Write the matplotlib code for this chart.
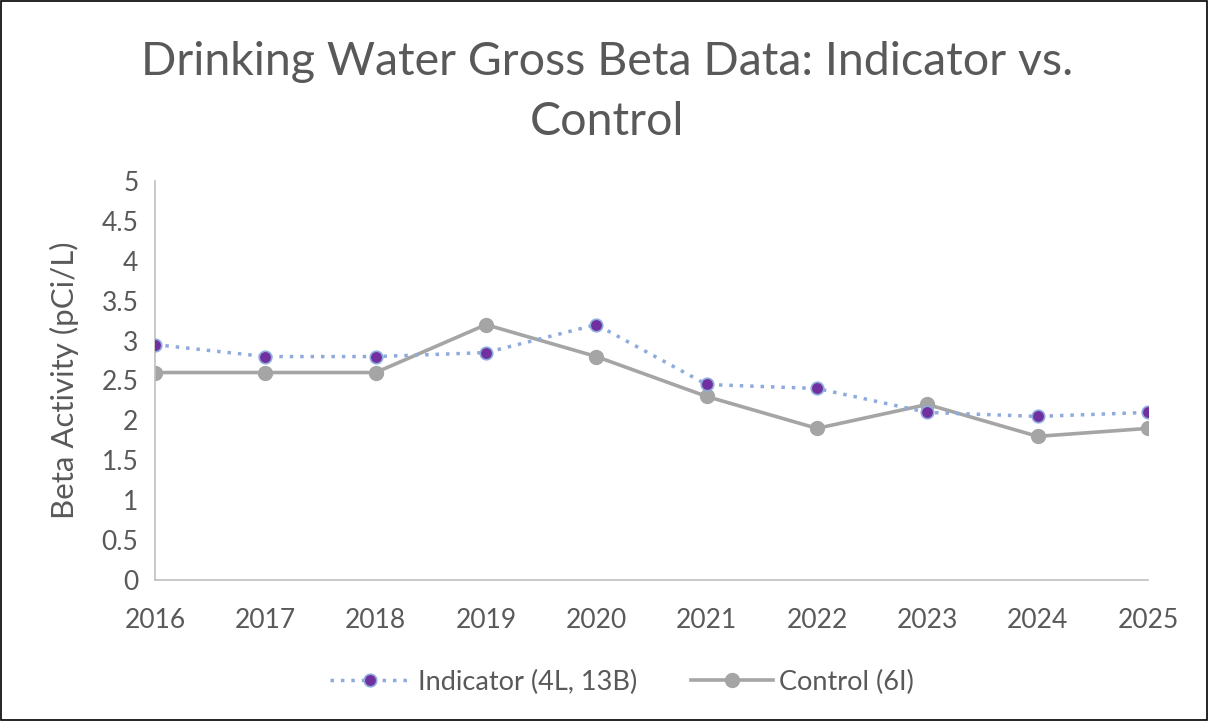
import matplotlib
matplotlib.use("Agg")
import matplotlib.pyplot as plt
from matplotlib.patches import Rectangle

years = [2016, 2017, 2018, 2019, 2020, 2021, 2022, 2023, 2024, 2025]
indicator = [2.95, 2.8, 2.8, 2.85, 3.2, 2.45, 2.4, 2.1, 2.05, 2.1]
control = [2.6, 2.6, 2.6, 3.2, 2.8, 2.3, 1.9, 2.2, 1.8, 1.9]
yticks = [0, 0.5, 1, 1.5, 2, 2.5, 3, 3.5, 4, 4.5, 5]
ytick_labels = ["0", "0.5", "1", "1.5", "2", "2.5", "3", "3.5", "4", "4.5", "5"]

plt.rcParams['font.family'] = ['Lato', 'DejaVu Sans']
txt = '#595959'

fig = plt.figure(figsize=(12.09, 7.21), dpi=100)
ax = fig.add_axes([155/1209, 1-580/721, 993/1209, 399/721])

ax.plot(years, indicator, linestyle=(0, (1, 2)), color='#8FAADC', linewidth=2.5,
        marker='o', markersize=9, markerfacecolor='#7030A0', markeredgecolor='#8FAADC',
        markeredgewidth=1.2, label='Indicator (4L, 13B)', zorder=3)
ax.plot(years, control, linestyle='-', color='#A5A5A5', linewidth=2.6,
        marker='o', markersize=10, markerfacecolor='#A5A5A5', markeredgecolor='#A5A5A5',
        label='Control (6I)', zorder=2)

ax.set_xlim(2016, 2025)
ax.set_ylim(0, 5)
ax.set_yticks(yticks)
ax.set_yticklabels(ytick_labels)
ax.set_xticks(years)
ax.set_xticklabels([str(y) for y in years])
for s in ['top', 'right']:
    ax.spines[s].set_visible(False)
for s in ['left', 'bottom']:
    ax.spines[s].set_color('#BFBFBF')
    ax.spines[s].set_linewidth(1.2)
ax.tick_params(axis='both', length=0, labelsize=19, colors=txt)
ax.tick_params(axis='x', pad=20)
ax.tick_params(axis='y', pad=12)
ax.set_ylabel('Beta Activity (pCi/L)', fontsize=22.5, color=txt, labelpad=16)

fig.text(607/1209, 1-92/721, 'Drinking Water Gross Beta Data: Indicator vs.\nControl',
         ha='center', va='center', fontsize=33.5, color=txt, linespacing=1.55)

leg = ax.legend(loc='center', bbox_to_anchor=(622/1209, 1-682/721), bbox_transform=fig.transFigure,
                ncol=2, frameon=False, fontsize=19.5, handlelength=3.0, columnspacing=2.0,
                handletextpad=0.25)
for t in leg.get_texts():
    t.set_color(txt)

fig.patches.append(Rectangle((0.001, 0.001), 0.997, 0.997, transform=fig.transFigure,
                             fill=False, edgecolor='#000000', linewidth=1.2))

fig.savefig('out.png', dpi=100)
